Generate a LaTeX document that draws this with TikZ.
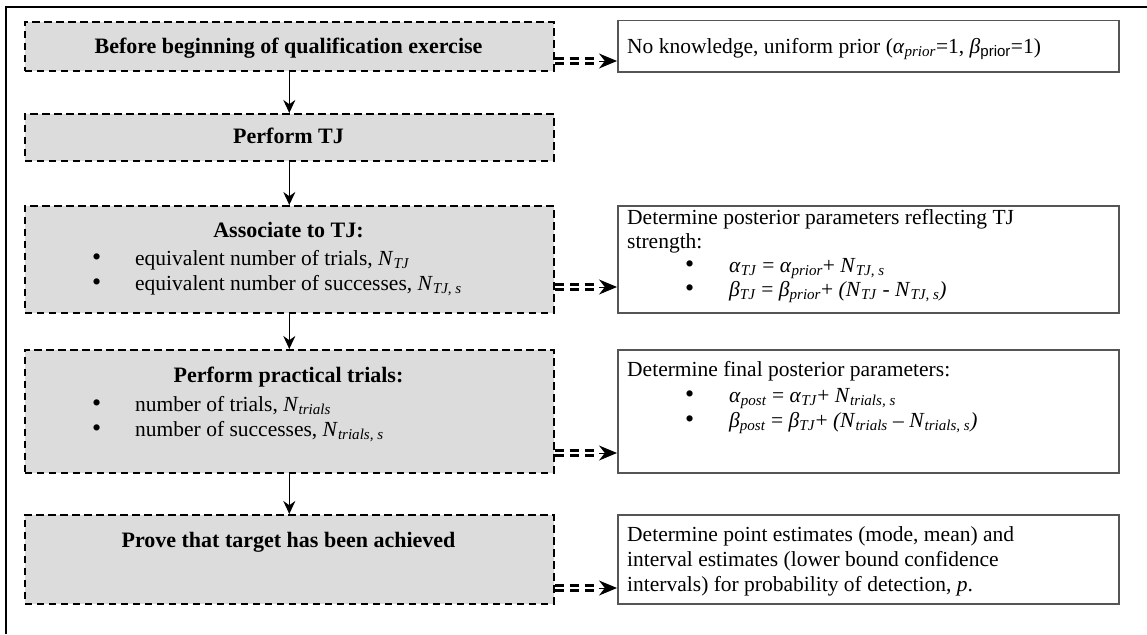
\documentclass[tikz,border=0pt]{standalone}
\usepackage{fontspec}
\setmainfont{Liberation Serif}
\newfontfamily\sansf{Liberation Sans}
\usetikzlibrary{arrows.meta,calc}
\newcommand{\sub}[1]{\textsubscript{\textit{#1}}}
\newcommand{\bul}{{\fontsize{26}{24}\selectfont •}}
\definecolor{boxgray}{RGB}{220,220,220}
\definecolor{rimgray}{RGB}{85,85,85}
\begin{document}
\begin{tikzpicture}[x=1pt,y=-1pt,
  txt/.style={font=\fontsize{21.5}{25}\selectfont, inner sep=0pt, anchor=base west},
  bult/.style={inner sep=0pt, anchor=base west},
  ttl/.style={font=\fontsize{22}{25}\selectfont\bfseries, inner sep=0pt, anchor=base},
  graybox/.style={draw=black, dash pattern=on 7.5pt off 4.5pt, line width=1.6pt, fill=boxgray, inner sep=0pt, minimum width=529pt, anchor=north west},
  whitebox/.style={draw=rimgray, line width=1.5pt, fill=white, inner sep=0pt, minimum width=501pt, anchor=north west},
  flow/.style={line width=1.5pt, -{Stealth[length=13pt,width=12pt]}},
  dbl/.style={draw=black, double=white, double distance=2pt, line width=2.6pt, dash pattern=on 9pt off 6pt},
  tip/.style={-{Stealth[length=18pt,width=15pt]}, line width=1pt}
]
\useasboundingbox (0,0) rectangle (1147,634);
% frame
\draw[line width=2.6pt] (6,634) -- (6,7) -- (1147,7);

% left boxes
\node[graybox, minimum height=49pt] (b1) at (24,21) {};
\node[graybox, minimum height=47pt] (b2) at (24,113) {};
\node[graybox, minimum height=107pt] (b3) at (24,205) {};
\node[graybox, minimum height=123pt] (b4) at (24,349) {};
\node[graybox, minimum height=89pt] (b5) at (24,514) {};

% right boxes
\node[whitebox, minimum height=51pt] (r1) at (617,20) {};
\node[whitebox, minimum height=107pt] (r2) at (617,205) {};
\node[whitebox, minimum height=123pt] (r3) at (617,349) {};
\node[whitebox, minimum height=89pt] (r4) at (617,514) {};

% left texts
\node[ttl] (t1) at (288.5,53) {Before beginning of qualification exercise};
\node[ttl] (t2) at (288.5,143) {Perform TJ};
\node[ttl] (t3) at (288.5,237) {Associate to TJ:};
\node[bult] (t3a) at (92,265) {\bul};
\node[txt] (t3b) at (135,265) {equivalent number of trials, \textit{N}\sub{TJ}};
\node[bult] (t3c) at (92,290) {\bul};
\node[txt] (t3d) at (135,290) {equivalent number of successes, \textit{N}\sub{TJ, s}};
\node[ttl] (t4) at (288.5,382) {Perform practical trials:};
\node[bult] (t4a) at (92,411) {\bul};
\node[txt] (t4b) at (135,411) {number of trials, \textit{N}\sub{trials}};
\node[bult] (t4c) at (92,436) {\bul};
\node[txt] (t4d) at (135,436) {number of successes, \textit{N}\sub{trials, s}};
\node[ttl] (t5) at (288.5,547) {Prove that target has been achieved};

% right texts
\node[txt] (s1) at (627,53) {No knowledge, uniform prior (\textit{α}\sub{prior}=1, \textit{β}\textsubscript{\sansf prior}=1)};
\node[txt] (s2a) at (627,224) {Determine posterior parameters reflecting TJ};
\node[txt] (s2b) at (627,248) {strength:};
\node[bult] (s2c) at (685,272) {\bul};
\node[txt] (s2d) at (729,272) {\textit{α}\sub{TJ} = \textit{α}\sub{prior}+ \textit{N}\sub{TJ, s}};
\node[bult] (s2e) at (685,296) {\bul};
\node[txt] (s2f) at (729,296) {\textit{β}\sub{TJ} = \textit{β}\sub{prior}+ \textit{(N}\sub{TJ} - \textit{N}\sub{TJ, s}\textit{)}};
\node[txt] (s3a) at (627,376) {Determine final posterior parameters:};
\node[bult] (s3b) at (685,402) {\bul};
\node[txt] (s3c) at (729,402) {\textit{α}\sub{post} = \textit{α}\sub{TJ}+ \textit{N}\sub{trials, s}};
\node[bult] (s3d) at (685,427) {\bul};
\node[txt] (s3e) at (729,427) {\textit{β}\sub{post} = \textit{β}\sub{TJ}+ \textit{(N}\sub{trials} – \textit{N}\sub{trials, s}\textit{)}};
\node[txt] (s4a) at (627,541) {Determine point estimates (mode, mean) and};
\node[txt] (s4b) at (627,566) {interval estimates (lower bound confidence};
\node[txt] (s4c) at (627,591) {intervals) for probability of detection, \textit{p}.};

% vertical flow
\draw[flow] (b1.south) -- (b2.north);
\draw[flow] (b2.south) -- (b3.north);
\draw[flow] (b3.south) -- (b4.north);
\draw[flow] (b4.south) -- (b5.north);

% dashed double connectors
\coordinate (e1) at ($(r1.west |- 0,61)+(-18,0)$);
\draw[dbl] (b1.east |- e1) -- (e1);
\draw[tip] (e1) -- (r1.west |- e1);
\coordinate (e3) at ($(r2.west |- 0,287)+(-18,0)$);
\draw[dbl] (b3.east |- e3) -- (e3);
\draw[tip] (e3) -- (r2.west |- e3);
\coordinate (e4) at ($(r3.west |- 0,453)+(-18,0)$);
\draw[dbl] (b4.east |- e4) -- (e4);
\draw[tip] (e4) -- (r3.west |- e4);
\coordinate (e5) at ($(r4.west |- 0,588)+(-18,0)$);
\draw[dbl] (b5.east |- e5) -- (e5);
\draw[tip] (e5) -- (r4.west |- e5);
\end{tikzpicture}
\end{document}
